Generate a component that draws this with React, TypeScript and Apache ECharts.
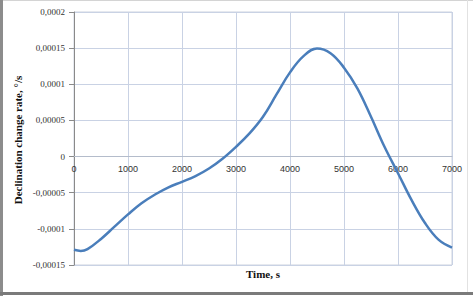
import React, { useEffect, useRef } from "react";
import * as echarts from "echarts";

const times = [0, 125, 250, 500, 750, 1000, 1250, 1500, 1750, 2000, 2250, 2500, 2750, 3000, 3250, 3500, 3750, 4000, 4250, 4500, 4750, 5000, 5250, 5500, 5750, 6000, 6250, 6500, 6750, 7000];
const rates = [
  -0.000129, -0.0001305, -0.000128, -0.000114, -0.000097, -0.00008, -0.0000645, -0.0000525, -0.0000425, -0.000035,
  -0.000027, -0.0000165, -0.000003, 0.0000135, 0.000032, 0.000055, 0.000086, 0.0001165, 0.000139, 0.0001495,
  0.000143, 0.000123, 0.000094, 0.000055, 0.0000135, -0.000023, -0.00006, -0.000092, -0.000115, -0.000126,
];

const xTitle = "Time, s";
const yTitle = "Declination change rate, °/s";

const Y_MIN = -0.00015;
const Y_MAX = 0.0002;
const GRID_TOP = 12;
const GRID_BOTTOM = 31;
const H = 296;

function fmtY(v: number): string {
  if (Math.abs(v) < 1e-12) return "0";
  const s = Number(v.toPrecision(6)).toFixed(5).replace(/0+$/, "").replace(/\.$/, "");
  return s.replace(".", ",");
}

export default function App() {
  const ref = useRef<HTMLDivElement>(null);
  useEffect(() => {
    if (!ref.current) return;
    const chart = echarts.init(ref.current, null, { renderer: "svg" });
    const plotH = H - GRID_TOP - GRID_BOTTOM;
    // distance from bottom edge of plot up to the zero line
    const zeroOffset = (plotH * (0 - Y_MIN)) / (Y_MAX - Y_MIN);
    chart.setOption({
      animation: false,
      backgroundColor: "#ffffff",
      grid: {
        left: 74,
        right: 21,
        top: GRID_TOP,
        bottom: GRID_BOTTOM,
        show: true,
        borderColor: "#cdd3de",
        borderWidth: 1,
      },
      xAxis: {
        type: "value",
        min: 0,
        max: 7000,
        interval: 1000,
        position: "bottom",
        offset: -zeroOffset,
        axisLine: { show: true, onZero: false, lineStyle: { color: "#b4bccb", width: 1 } },
        axisTick: { show: false },
        axisLabel: {
          margin: 8,
          fontSize: 9,
          color: "#333",
          fontFamily: "Liberation Sans",
          formatter: (v: number) => String(Math.round(v)),
        },
        splitLine: { show: true, lineStyle: { color: "#c9d2e4", width: 1 } },
      },
      yAxis: {
        type: "value",
        min: Y_MIN,
        max: Y_MAX,
        interval: 0.00005,
        axisLine: { show: true, onZero: false, lineStyle: { color: "#8a8a8a", width: 1 } },
        axisTick: { show: true, length: 5, lineStyle: { color: "#8a8a8a" } },
        axisLabel: {
          margin: 9,
          fontSize: 9,
          color: "#333",
          fontFamily: "Liberation Serif",
          formatter: (v: number) => fmtY(v),
        },
        splitLine: { show: true, lineStyle: { color: "#c9d2e4", width: 1 } },
      },
      series: [
        {
          type: "line",
          smooth: 0.4,
          showSymbol: false,
          data: times.map((t, i) => [t, rates[i]]),
          lineStyle: { color: "#4a7ebb", width: 2.5 },
          itemStyle: { color: "#4a7ebb" },
        },
      ],
      graphic: [
        { type: "rect", shape: { x: 0, y: 0, width: 473, height: 1 }, style: { fill: "#d4d4d4" } },
        { type: "rect", shape: { x: 0, y: 0, width: 3, height: 296 }, style: { fill: "#8c8c8c" } },
        { type: "rect", shape: { x: 0, y: 292, width: 473, height: 3 }, style: { fill: "#7a7a7a" } },
        { type: "rect", shape: { x: 467, y: 0, width: 1, height: 292 }, style: { fill: "#e2e2e2" } },
        {
          type: "text",
          x: 18,
          y: 140,
          rotation: Math.PI / 2,
          style: {
            text: yTitle,
            font: 'bold 11px "Liberation Serif"',
            fill: "#111",
            textAlign: "center",
            textVerticalAlign: "middle",
          },
        },
        {
          type: "text",
          x: 263,
          y: 274,
          style: {
            text: xTitle,
            font: 'bold 11px "Liberation Serif"',
            fill: "#111",
            textAlign: "center",
            textVerticalAlign: "middle",
          },
        },
      ],
    });
    return () => chart.dispose();
  }, []);
  return (
    <div
      ref={ref}
      style={{ position: "absolute", left: 0, top: 0, width: 473, height: 296 }}
    />
  );
}
